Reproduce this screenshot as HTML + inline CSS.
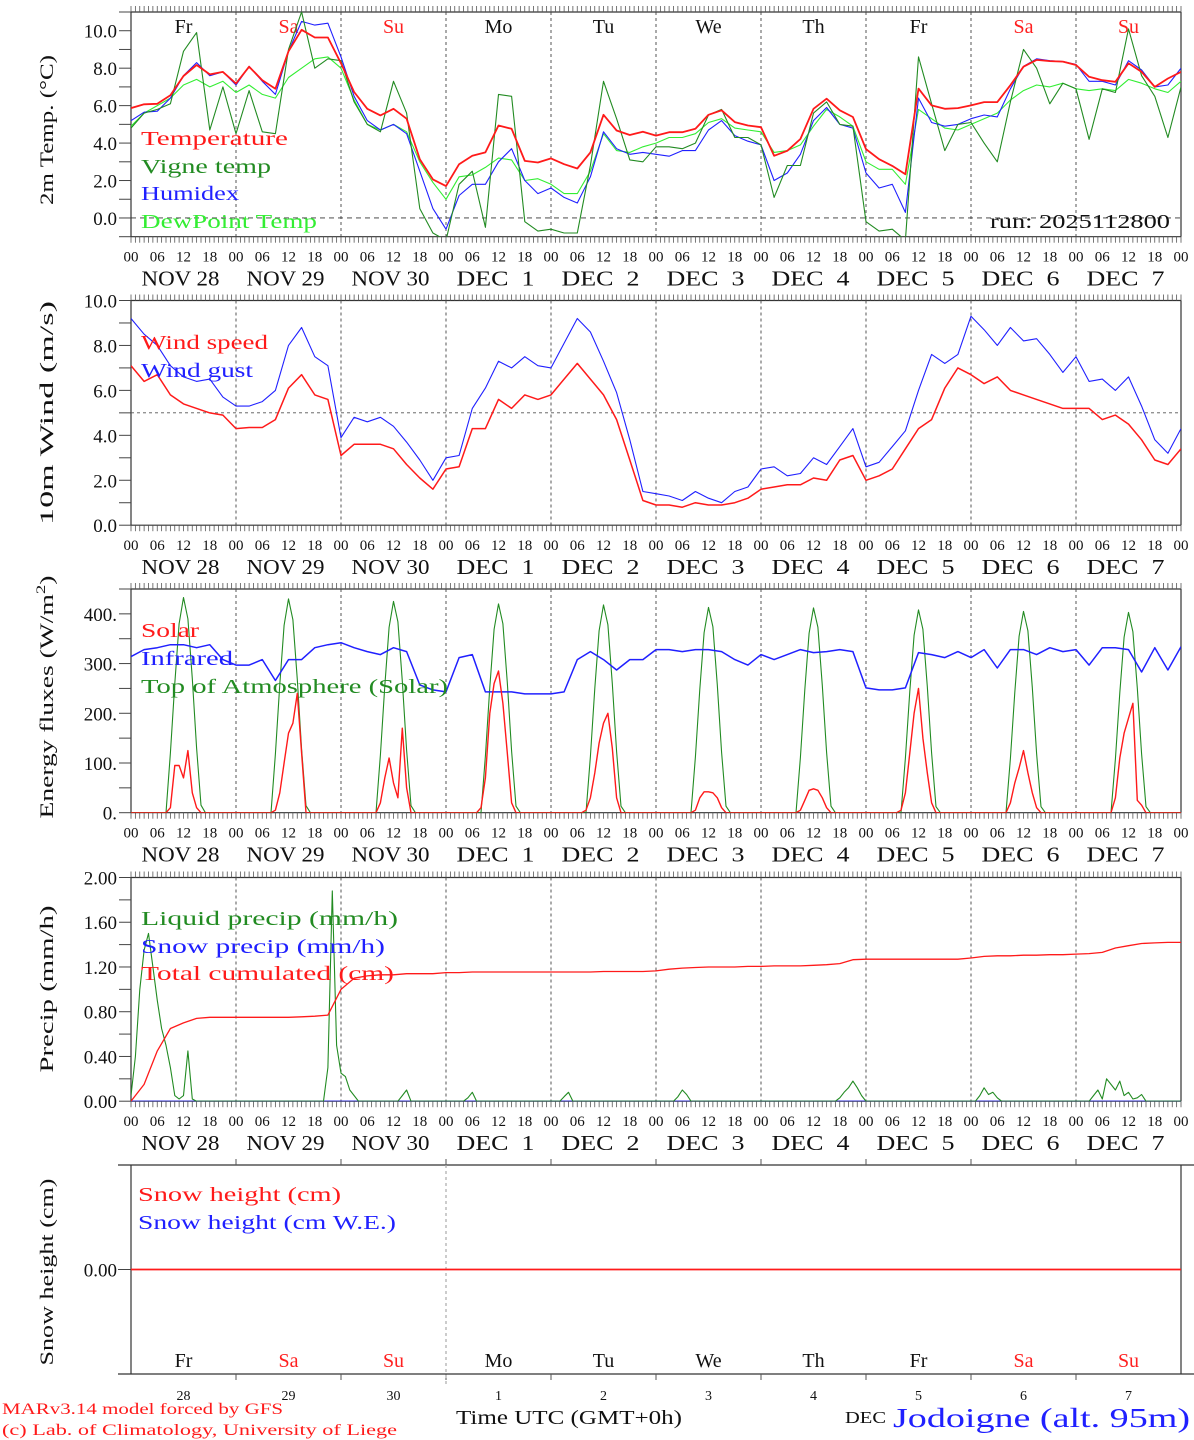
<!DOCTYPE html>
<html><head><meta charset="utf-8"><style>
html,body{margin:0;padding:0;background:#fff;}
svg{display:block;font-family:"Liberation Serif","DejaVu Serif",serif;}
</style></head><body>
<svg id="chart" xmlns="http://www.w3.org/2000/svg" width="1194" height="1440" viewBox="0 0 1194 1440">
<defs></defs>
</svg>
<script>
// ---- Data (3-hourly, hours 0..240 from NOV 28 00 UTC) ----
const dayNames = ["Fr","Sa","Su","Mo","Tu","We","Th","Fr","Sa","Su"];
const dateLabels = ["NOV 28","NOV 29","NOV 30","DEC  1","DEC  2","DEC  3","DEC  4","DEC  5","DEC  6","DEC  7"];
const dayNumbers = ["28","29","30","1","2","3","4","5","6","7"];
const hourTicks = ["00","06","12","18"];
const temperature = [5.87,6.07,6.1,6.55,7.58,8.17,7.67,7.8,7.18,8.08,7.36,6.9,8.9,10.05,9.64,9.64,8.26,6.73,5.83,5.48,5.83,5.3,3.14,2.06,1.7,2.87,3.32,3.5,4.94,4.76,3.05,2.96,3.18,2.87,2.64,3.5,5.51,4.67,4.43,4.61,4.4,
4.58,4.58,4.76,5.51,5.75,5.12,4.94,4.85,3.32,3.59,4.22,5.83,6.37,5.75,5.39,3.68,3.14,2.78,2.33,6.91,6.01,5.83,5.87,6.01,6.19,6.19,7.09,8.08,8.44,8.38,8.35,8.17,7.54,7.36,7.27,8.26,7.8,7.0,7.45,7.8];
const vigneTemp = [4.8,5.6,5.8,6.1,8.9,9.9,4.7,7.0,4.5,6.8,4.6,4.5,9.0,11.0,8.0,8.5,8.4,6.2,5.0,4.6,7.3,5.6,0.5,-0.8,-1.2,1.8,2.5,-0.5,6.6,6.5,-0.2,-0.7,-0.6,-0.8,-0.8,2.8,7.3,5.3,3.1,3.0,3.8,
3.8,3.7,4.0,5.5,5.8,4.3,4.3,3.9,1.1,2.8,2.8,5.6,6.2,5.0,4.9,-0.2,-0.7,-0.6,-1.2,8.6,6.1,3.6,5.0,5.1,4.0,3.0,6.2,9.0,8.0,6.1,7.2,6.9,4.2,6.9,6.7,10.1,7.6,6.5,4.3,7.0];
const humidex = [5.2,5.65,5.7,6.4,7.6,8.3,7.6,7.8,7.1,8.1,7.3,6.6,8.9,10.5,10.3,10.4,8.6,6.5,5.2,4.7,5.0,4.5,2.5,0.5,-0.6,1.2,1.8,1.8,3.0,3.7,2.0,1.3,1.6,1.1,0.8,2.2,4.6,3.7,3.4,3.5,3.4,
3.3,3.6,3.6,4.7,5.2,4.4,4.1,3.9,2.0,2.4,3.4,5.2,5.9,5.0,4.8,2.4,1.6,1.8,0.3,6.4,5.1,4.9,5.0,5.3,5.5,5.4,6.9,8.1,8.5,8.4,8.35,8.2,7.3,7.3,7.1,8.4,7.9,7.0,7.1,8.0];
const dewPoint = [4.9,5.6,6.0,6.4,7.1,7.4,7.0,7.3,6.7,7.1,6.6,6.4,7.5,8.0,8.5,8.6,8.0,6.3,5.0,4.7,5.0,4.6,3.0,1.9,1.0,2.2,2.3,2.7,3.2,3.1,2.0,2.1,1.8,1.3,1.3,2.5,4.5,3.6,3.5,3.8,4.0,
4.3,4.3,4.5,5.1,5.3,4.8,4.7,4.6,3.5,3.6,3.9,4.9,5.8,5.4,4.9,3.0,2.6,2.6,1.8,5.8,5.3,4.8,4.7,5.0,5.3,5.6,6.3,6.8,7.1,7.0,7.2,6.9,6.8,6.9,6.8,7.4,7.2,6.9,6.7,7.3];
const windSpeed = [7.1,6.4,6.7,5.8,5.4,5.2,5.0,4.9,4.3,4.35,4.35,4.7,6.1,6.7,5.8,5.6,3.1,3.6,3.6,3.6,3.4,2.7,2.1,1.6,2.5,2.6,4.3,4.3,5.6,5.2,5.8,5.6,5.8,6.5,7.2,6.5,5.8,4.7,2.9,1.1,0.9,0.9,0.8,1.0,0.9,0.9,1.0,1.2,1.6,1.7,1.8,1.8,2.1,2.0,2.9,3.1,2.0,2.2,2.5,3.4,4.3,4.7,6.1,7.0,6.7,6.3,6.6,6.0,5.8,5.6,5.4,5.2,5.2,5.2,4.7,4.9,4.5,3.8,2.9,2.7,3.4];
const windGust = [9.2,8.5,8.0,7.1,6.6,6.4,6.5,5.7,5.3,5.3,5.5,6.0,8.0,8.8,7.5,7.1,3.9,4.8,4.6,4.8,4.4,3.7,2.9,2.0,3.0,3.1,5.2,6.1,7.3,7.0,7.5,7.1,7.0,8.1,9.2,8.6,7.3,5.9,3.8,1.5,1.4,1.3,1.1,1.5,1.2,1.0,1.5,1.7,2.5,2.6,2.2,2.3,3.0,2.7,3.5,4.3,2.6,2.8,3.5,4.2,6.0,7.6,7.2,7.6,9.3,8.7,8.0,8.8,8.2,8.3,7.6,6.8,7.5,6.4,6.5,6.0,6.6,5.3,3.8,3.2,4.3];
const infrared = [314,328,332,338,338,332,338,308,297,297,308,266,308,308,332,338,342,332,324,318,332,324,257,247,243,312,318,243,243,243,239,239,239,243,308,324,308,287,308,308,328,328,324,328,328,324,308,297,318,308,318,328,322,324,328,324,251,247,247,251,322,318,312,324,312,328,291,328,328,318,332,324,328,297,332,332,328,283,332,287,334];
// hourly daytime values for hours 7..17 of each day
const sunHours = [7,8,9,10,11,12,13,14,15,16,17];
const solar = [
 [0,0,10,95,95,70,125,40,10,0,0],
 [0,0,5,40,100,160,180,240,120,0,0],
 [0,0,20,70,110,60,30,170,50,0,0],
 [0,10,70,200,260,285,220,120,20,0,0],
 [0,5,30,80,140,180,200,130,30,0,0],
 [0,0,5,30,42,42,40,30,10,0,0],
 [0,0,5,25,45,48,45,30,10,0,0],
 [0,5,40,120,200,250,150,80,20,0,0],
 [0,0,20,60,90,125,80,40,10,0,0],
 [0,0,30,110,160,190,220,25,15,0,0]];
const toaSolar = [
 [0,0,120,260,380,433,390,270,130,15,0],
 [0,0,118,258,377,430,388,268,128,14,0],
 [0,0,116,255,373,425,384,265,126,14,0],
 [0,0,114,252,369,420,380,262,124,13,0],
 [0,0,113,250,366,418,378,260,123,13,0],
 [0,0,112,248,362,413,374,257,121,13,0],
 [0,0,111,247,361,412,373,256,121,13,0],
 [0,0,110,244,357,408,369,254,120,12,0],
 [0,0,109,242,355,405,366,252,119,12,0],
 [0,0,108,241,353,403,364,251,118,12,0]];
const precipHours = [0,1,2,3,4,5,6,7,8,9,10,11,12,13,14,15,44,45,46,47,48,49,50,52,61,62,63,64,76,77,78,79,98,99,100,101,124,125,126,127,128,161,162,163,164,165,166,167,168,193,194,195,196,197,198,199,219,220,221,222,223,224,225,226,227,228,229,230,231,232,240];
const liquidPrecip = [0.05,0.4,1.0,1.35,1.5,1.2,0.9,0.65,0.5,0.3,0.05,0.02,0.05,0.45,0.02,0,0,0.3,1.88,0.5,0.25,0.22,0.1,0,0,0.05,0.1,0,0,0.03,0.08,0,0,0.04,0.08,0,0,0.04,0.1,0.06,0,0,0.03,0.08,0.12,0.18,0.12,0.05,0,0,0.05,0.12,0.06,0.08,0.03,0,0,0.05,0.1,0.02,0.2,0.15,0.1,0.18,0.05,0.08,0.02,0.03,0.06,0,0];
const totalCumulated = [0,0.15,0.45,0.65,0.70,0.74,0.75,0.75,0.75,0.75,0.75,0.75,0.75,0.755,0.76,0.77,1.0,1.1,1.12,1.13,1.13,1.14,1.14,1.14,1.15,1.15,1.155,1.155,1.155,1.155,1.155,1.155,1.155,1.155,1.155,1.155,1.16,1.16,1.16,1.16,1.165,1.18,1.19,1.195,1.2,1.2,1.2,1.205,1.205,1.21,1.21,1.21,1.215,1.22,1.23,1.265,1.27,1.27,1.27,1.27,1.27,1.27,1.27,1.27,1.28,1.295,1.3,1.3,1.305,1.305,1.31,1.31,1.315,1.32,1.33,1.37,1.39,1.41,1.415,1.42,1.42];
const snowHeight = [0,0];
const snowWE = [0,0];

// ---- Layout ----
const NS = "http://www.w3.org/2000/svg";
const svg = document.getElementById("chart");
const X0 = 131, X1 = 1181, HMAX = 240;
const xOf = h => X0 + (X1 - X0) * h / HMAX;
const panels = [
  {top:12, bot:236.7, min:-1, max:11},
  {top:300.5, bot:525.2, min:0, max:10},
  {top:589, bot:812.7, min:0, max:450},
  {top:877.5, bot:1101.2, min:0, max:2},
  {top:1165, bot:1374, min:-1, max:1}
];
const yOf = (p, v) => p.bot - (p.bot - p.top) * (v - p.min) / (p.max - p.min);

function el(tag, attrs, parent) {
  const e = document.createElementNS(NS, tag);
  for (const k in attrs) e.setAttribute(k, attrs[k]);
  (parent || svg).appendChild(e);
  return e;
}
function txt(x, y, s, size, color, anchor, len) {
  const t = el("text", {x:x, y:y, "font-size":size, fill:color, "text-anchor":anchor || "start"});
  if (len) { t.setAttribute("textLength", len); t.setAttribute("lengthAdjust", "spacingAndGlyphs"); }
  t.textContent = s;
  return t;
}
function line(x1, y1, x2, y2, color, w, dash) {
  const l = el("line", {x1:x1, y1:y1, x2:x2, y2:y2, stroke:color, "stroke-width":w || 1});
  if (dash) l.setAttribute("stroke-dasharray", dash);
  return l;
}
const defs = svg.querySelector("defs");
panels.forEach((p, i) => {
  const cp = el("clipPath", {id:"clip" + i}, defs);
  el("rect", {x:X0, y:p.top, width:X1 - X0, height:p.bot - p.top}, cp);
});
function series(pi, hours, vals, color, name, w) {
  const p = panels[pi];
  const pts = vals.map((v, k) => xOf(hours[k]).toFixed(1) + "," + yOf(p, v).toFixed(1)).join(" ");
  const pl = el("polyline", {points:pts, fill:"none", stroke:color, "stroke-width":w || 1.2, "clip-path":"url(#clip" + pi + ")", "stroke-linejoin":"round"});
  
  
  return pl;
}
const h3 = temperature.map((_, k) => k * 3);

// ---- Frames, ticks, grids ----
panels.forEach((p, i) => {
  const g = el("g", {});
  
  
  const ext = i === 4 ? 118 : X0;
  const add = (a) => g.appendChild(a);
  add(line(ext, p.top, i === 4 ? 1194 : X1, p.top, "#333", 1.2));
  add(line(ext, p.bot, i === 4 ? 1194 : X1, p.bot, "#333", 1.2));
  add(line(X0, p.top, X0, p.bot, "#333", 1.2));
  add(line(X1, p.top, X1, p.bot, "#333", 1.2));
  if (i < 4) {
    for (let h = 0; h <= HMAX; h++) {
      add(line(xOf(h), p.top - 6, xOf(h), p.top, "#555", 0.8));
      add(line(xOf(h), p.bot, xOf(h), p.bot + 6, "#555", 0.8));
    }
    for (let d = 1; d < 10; d++) add(line(xOf(d * 24), p.top, xOf(d * 24), p.bot, "#444", 0.9, "3,3"));
  } else {
    for (let d = 1; d < 10; d++) {
      add(line(xOf(d * 24), p.top - 6, xOf(d * 24), p.top, "#555", 1));
      add(line(xOf(d * 24), p.bot, xOf(d * 24), p.bot + 6, "#555", 1));
    }
    add(line(xOf(72), p.top, xOf(72), p.bot + 11, "#aaa", 1.2, "3,3"));
  }
});

// y ticks & labels
function yTicks(pi, minorStep, majorStep, fmt, from, to) {
  const p = panels[pi];
  for (let v = from; v <= to + 1e-9; v += minorStep) {
    line(119, yOf(p, v), X0, yOf(p, v), "#444", 1);
  }
  for (let v = Math.max(from, 0); v <= to + 1e-9; v += majorStep) {
    const t = txt(117, yOf(p, v) + 7, fmt(v), 19, "#111", "end");
    
    
  }
}
yTicks(0, 1, 2, v => v.toFixed(1), -1, 11);
yTicks(1, 1, 2, v => v.toFixed(1), 0, 10);
yTicks(2, 50, 100, v => v.toFixed(0) + ".", 0, 450);
yTicks(3, 0.2, 0.4, v => v.toFixed(2), 0, 2);
line(118, yOf(panels[4], 0), X0, yOf(panels[4], 0), "#444", 1);
{ const t = txt(117, yOf(panels[4], 0) + 7, "0.00", 19, "#111", "end");
  
   }

// reference dashed lines
line(X0, yOf(panels[0], 0), X1, yOf(panels[0], 0), "#333", 0.9, "5,4");
line(X0, yOf(panels[1], 5), X1, yOf(panels[1], 5), "#555", 0.9, "3,3");

// x labels under panels 1-4
for (let i = 0; i < 4; i++) {
  const p = panels[i];
  for (let d = 0; d <= 10; d++) {
    hourTicks.forEach((s, k) => {
      if (d === 10 && k > 0) return;
      const t = txt(xOf(d * 24 + k * 6), p.bot + 25, s, 15, "#111", "middle");
      
      
    });
  }
  dateLabels.forEach((s, d) => {
    const t = txt(xOf(d * 24 + 12) - 3, p.bot + 49, s, 21, "#111", "middle", 78);
    
    
    t.setAttribute("xml:space", "preserve");
    t.style.whiteSpace = "pre";
  });
}
// day names
dayNames.forEach((s, d) => {
  const c = (s === "Sa" || s === "Su") ? "#ff2020" : "#111";
  const t1 = txt(xOf(d * 24 + 12), 33, s, 20, c, "middle");
  
  
  const t2 = txt(xOf(d * 24 + 12), 1367, s, 20, c, "middle");
  
  
  const t3 = txt(xOf(d * 24 + 12), 1400, dayNumbers[d], 14, "#111", "middle");
  
  
});

// ---- Series ----
series(0, h3, dewPoint, "#33ee33", "dewpoint-line", 1.1);
series(0, h3, humidex, "#2020ff", "humidex-line", 1.1);
series(0, h3, vigneTemp, "#228b22", "vigne-temp-line", 1.1);
series(0, h3, temperature, "#ff1a1a", "temperature-line", 1.8);
series(1, h3, windGust, "#2020ff", "wind-gust-line", 1.1);
series(1, h3, windSpeed, "#ff1a1a", "wind-speed-line", 1.5);
// energy fluxes: build hourly from day arrays
const sHours = [], sVals = [], tVals = [];
for (let d = 0; d < 10; d++) {
  sunHours.forEach((h, k) => { sHours.push(d * 24 + h); sVals.push(solar[d][k]); tVals.push(toaSolar[d][k]); });
}
sHours.unshift(0); sVals.unshift(0); tVals.unshift(0);
sHours.push(240); sVals.push(0); tVals.push(0);
series(2, sHours, tVals, "#228b22", "toa-solar-line", 1.1);
series(2, h3, infrared, "#2020ff", "infrared-line", 1.5);
series(2, sHours, sVals, "#ff1a1a", "solar-line", 1.4);
series(3, [0, 240], [0, 0], "#2020ff", "snow-precip-line", 1.2);
series(3, precipHours, liquidPrecip, "#228b22", "liquid-precip-line", 1.1);
series(3, h3, totalCumulated, "#ff1a1a", "total-cumulated-line", 1.3);
series(4, [0, 240], snowWE, "#2020ff", "snow-we-line", 0.6);
series(4, [0, 240], snowHeight, "#ff1a1a", "snow-height-line", 1.8);

// ---- Legends ----
function legend(x, y, s, c, len, name) {
  const t = txt(x, y, s, 20, c, "start", len);
  
  
}
legend(141, 145, "Temperature", "#ff1a1a", 147, "legend-temperature");
legend(141, 173, "Vigne temp", "#228b22", 130, "legend-vigne-temp");
legend(141, 200, "Humidex", "#2020ff", 98, "legend-humidex");
legend(141, 228, "DewPoint Temp", "#33ee33", 176, "legend-dewpoint");
legend(141, 349, "Wind speed", "#ff1a1a", 127, "legend-wind-speed");
legend(141, 377, "Wind gust", "#2020ff", 112, "legend-wind-gust");
legend(141, 637, "Solar", "#ff1a1a", 58, "legend-solar");
legend(141, 665, "Infrared", "#2020ff", 92, "legend-infrared");
legend(141, 693, "Top of Atmosphere (Solar)", "#228b22", 307, "legend-toa");
legend(141, 925, "Liquid precip (mm/h)", "#228b22", 257, "legend-liquid-precip");
legend(141, 953, "Snow precip (mm/h)", "#2020ff", 244, "legend-snow-precip");
legend(141, 980, "Total cumulated (cm)", "#ff1a1a", 253, "legend-total-cumulated");
legend(138, 1201, "Snow height (cm)", "#ff1a1a", 203, "legend-snow-height");
legend(138, 1229, "Snow height (cm W.E.)", "#2020ff", 258, "legend-snow-we");
{ const t = txt(990, 228, "run: 2025112800", 20, "#111", "start", 180);
  
   }

// ---- Y axis titles ----
function ytitle(cy, s, len, name) {
  const t = txt(0, 0, s, 19, "#111", "middle", len);
  t.setAttribute("transform", "translate(53," + cy + ") rotate(-90)");
  
  
  return t;
}
ytitle(130, "2m Temp. (\u00B0C)", 150, "y-axis-title-temp");
ytitle(413, "10m Wind (m/s)", 224, "y-axis-title-wind");
{
  const t = ytitle(697, "", 243, "y-axis-title-energy");
  t.removeAttribute("textLength");
  t.setAttribute("textLength", 243);
  const a = document.createElementNS(NS, "tspan"); a.textContent = "Energy fluxes (W/m"; t.appendChild(a);
  const b = document.createElementNS(NS, "tspan"); b.textContent = "2"; b.setAttribute("dy", "-8"); b.setAttribute("font-size", "13"); t.appendChild(b);
  const c = document.createElementNS(NS, "tspan"); c.textContent = ")"; c.setAttribute("dy", "8"); t.appendChild(c);
}
ytitle(989, "Precip (mm/h)", 167, "y-axis-title-precip");
ytitle(1272, "Snow height (cm)", 187, "y-axis-title-snow");

// ---- Footer ----
function foot(x, y, s, size, c, len, name) {
  const t = txt(x, y, s, size, c, "start", len);
  
  
}
foot(2, 1414, "MARv3.14 model forced by GFS", 16, "#ff1a1a", 281, "credit-model");
foot(2, 1435, "(c) Lab. of Climatology, University of Liege", 16, "#ff1a1a", 395, "credit-lab");
foot(456, 1424, "Time UTC (GMT+0h)", 20, "#111", 226, "x-axis-title");
foot(845, 1423, "DEC", 17, "#111", 41, "month-label");
foot(893, 1427, "Jodoigne (alt. 95m)", 27, "#2020ff", 297, "station-title");
</script>
</body></html>
